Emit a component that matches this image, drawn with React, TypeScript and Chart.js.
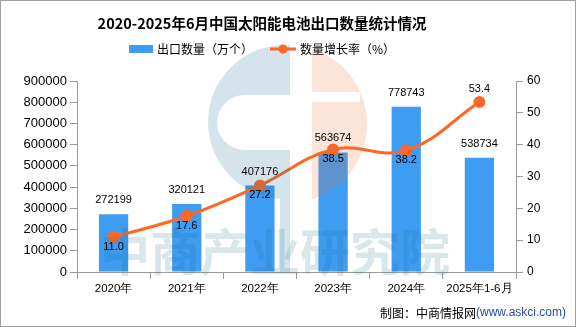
import React, { useEffect, useRef } from "react";
import { Chart, registerables } from "chart.js";

Chart.register(...registerables);

const TITLE = "2020-2025年6月中国太阳能电池出口数量统计情况";
const CATEGORIES = ["2020年", "2021年", "2022年", "2023年", "2024年", "2025年1-6月"];
const EXPORT_QTY = [272199, 320121, 407176, 563674, 778743, 538734];
const GROWTH = [11.0, 17.6, 27.2, 38.5, 38.2, 53.4];
const BAR_LABEL = "出口数量（万个）";
const LINE_LABEL = "数量增长率（%）";
const SOURCE_A = "制图：中商情报网";
const SOURCE_B = "(www.askci.com)";
const WATERMARK = "中商产业研究院";

const BAR_COLOR = "#3e9cf2";
const LINE_COLOR = "#fd6826";
const AXIS_COLOR = "#9a9a9a";
const CJK = "'Noto Sans CJK SC', 'Liberation Sans', sans-serif";
const NUM = "'Liberation Sans', Arial, sans-serif";

const decorPlugin = {
  id: "decor",
  afterDatasetsDraw(chart: any) {
    const ctx = chart.ctx as CanvasRenderingContext2D;
    ctx.save();
    ctx.fillStyle = "rgba(30,110,150,0.19)";
    ctx.beginPath();
    ctx.moveTo(290, 45);
    ctx.lineTo(285, 45);
    ctx.arc(285, 122, 77, -Math.PI / 2, Math.PI / 2, true);
    ctx.lineTo(290, 199);
    ctx.closePath();
    ctx.moveTo(290, 95);
    ctx.lineTo(245, 95);
    ctx.ellipse(245, 122.5, 28, 27.5, 0, -Math.PI / 2, Math.PI / 2, true);
    ctx.lineTo(290, 150);
    ctx.closePath();
    ctx.fill("evenodd");
    ctx.fillRect(280, 199, 10, 73);
    ctx.save();
    ctx.beginPath();
    ctx.rect(312, 0, 200, 400);
    ctx.clip();
    ctx.fillStyle = "rgba(235,110,50,0.19)";
    ctx.beginPath();
    ctx.arc(288, 124, 79, 0, Math.PI * 2);
    ctx.rect(312, 92, 48, 10);
    ctx.fill("evenodd");
    ctx.restore();
    ctx.fillStyle = "rgba(30,110,150,0.17)";
    ctx.font = "bold 50px " + CJK;
    ctx.textAlign = "left";
    ctx.textBaseline = "middle";
    ctx.fillText(WATERMARK, 100, 252);
    ctx.restore();
  },
  afterDraw(chart: any) {
    const ctx = chart.ctx as CanvasRenderingContext2D;
    ctx.save();
    ctx.fillStyle = "#000";
    ctx.font = "11px " + NUM;
    ctx.textAlign = "center";
    ctx.textBaseline = "middle";
    const barMeta = chart.getDatasetMeta(0);
    barMeta.data.forEach((el: any, i: number) => {
      ctx.fillText(String(EXPORT_QTY[i]), el.x, el.y - 14);
    });
    const lineMeta = chart.getDatasetMeta(1);
    lineMeta.data.forEach((el: any, i: number) => {
      const last = i === lineMeta.data.length - 1;
      ctx.fillText(GROWTH[i].toFixed(1), el.x, last ? el.y - 13 : el.y + 10);
    });
    ctx.font = "bold 14.5px " + CJK;
    ctx.fillText(TITLE, 262, 23);
    ctx.fillStyle = BAR_COLOR;
    ctx.fillRect(129, 45, 24, 8);
    ctx.fillStyle = "#000";
    ctx.font = "12px " + CJK;
    ctx.textAlign = "left";
    ctx.fillText(BAR_LABEL, 157, 49);
    ctx.strokeStyle = LINE_COLOR;
    ctx.lineWidth = 3;
    ctx.beginPath();
    ctx.moveTo(270, 49);
    ctx.lineTo(296, 49);
    ctx.stroke();
    ctx.fillStyle = LINE_COLOR;
    ctx.beginPath();
    ctx.arc(283, 49, 4.5, 0, Math.PI * 2);
    ctx.fill();
    ctx.fillStyle = "#000";
    ctx.fillText(LINE_LABEL, 300, 49);
    ctx.textAlign = "right";
    ctx.fillStyle = "#1f4f9f";
    ctx.font = "12px " + NUM;
    const wB = ctx.measureText(SOURCE_B).width;
    ctx.fillText(SOURCE_B, 566, 313);
    ctx.fillStyle = "#000";
    ctx.font = "12px " + CJK;
    ctx.fillText(SOURCE_A, 566 - wB, 313);
    ctx.strokeStyle = "#a0a0a0";
    ctx.lineWidth = 1;
    ctx.strokeRect(0.5, 0.5, chart.width - 1, chart.height - 1);
    ctx.restore();
  },
};

export default function App() {
  const ref = useRef<HTMLCanvasElement | null>(null);
  useEffect(() => {
    document.body.style.margin = "0";
    const canvas = ref.current!;
    const chart = new Chart(canvas, {
      type: "bar",
      data: {
        labels: CATEGORIES,
        datasets: [
          {
            type: "bar",
            label: BAR_LABEL,
            data: EXPORT_QTY,
            backgroundColor: BAR_COLOR,
            yAxisID: "y",
            categoryPercentage: 1,
            barPercentage: 0.4,
            order: 1,
          },
          {
            type: "line",
            label: LINE_LABEL,
            data: GROWTH,
            borderColor: LINE_COLOR,
            backgroundColor: LINE_COLOR,
            borderWidth: 3,
            pointRadius: 4.5,
            pointBackgroundColor: LINE_COLOR,
            pointBorderColor: LINE_COLOR,
            tension: 0.4,
            yAxisID: "y1",
            order: 0,
          },
        ] as any,
      },
      options: {
        responsive: false,
        animation: false,
        devicePixelRatio: 1,
        layout: { padding: { top: 81, left: 0, right: 0, bottom: 0 } },
        plugins: { legend: { display: false }, title: { display: false }, tooltip: { enabled: false } },
        scales: {
          x: {
            grid: { display: true, drawOnChartArea: false, drawTicks: true, tickLength: 7, color: AXIS_COLOR, offset: true },
            border: { color: AXIS_COLOR },
            ticks: { color: "#000", font: { size: 11.5, family: NUM }, padding: 3, maxRotation: 0, autoSkip: false },
            afterFit: (s: any) => { s.height = 55; },
          },
          y: {
            position: "left",
            min: 0,
            max: 900000,
            grid: { display: true, drawOnChartArea: false, tickLength: 7, color: AXIS_COLOR },
            border: { color: AXIS_COLOR },
            ticks: { stepSize: 100000, color: "#000", font: { size: 13, family: NUM }, padding: 3, callback: (v: any) => String(v) },
            afterFit: (s: any) => { s.width = 77; },
          },
          y1: {
            position: "right",
            min: 0,
            max: 60,
            grid: { display: true, drawOnChartArea: false, tickLength: 7, color: AXIS_COLOR },
            border: { color: AXIS_COLOR },
            ticks: { stepSize: 10, color: "#000", font: { size: 12, family: NUM }, padding: 4, callback: (v: any) => String(v) },
            afterFit: (s: any) => { s.width = 60; },
          },
        },
      } as any,
      plugins: [decorPlugin],
    });
    return () => chart.destroy();
  }, []);
  return (
    <div style={{ position: "absolute", left: 0, top: 0, width: 576, height: 327, background: "#fff" }}>
      <canvas ref={ref} width={576} height={327} style={{ display: "block", width: 576, height: 327 }} />
    </div>
  );
}
